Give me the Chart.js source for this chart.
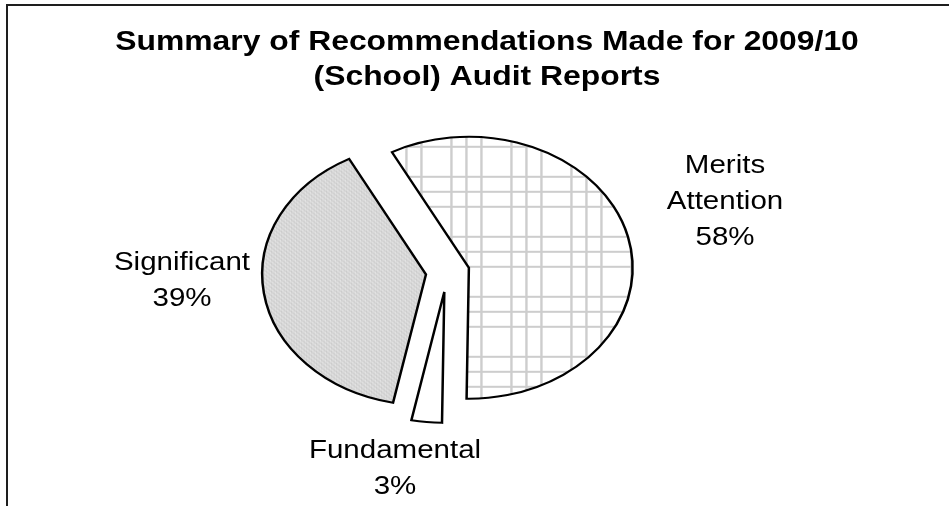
<!DOCTYPE html>
<html>
<head>
  <meta charset="UTF-8">
  <title>Summary of Recommendations Made for 2009/10</title>
  <script src="https://cdn.jsdelivr.net/npm/chart.js@4.4.1/dist/chart.umd.min.js"></script>
  <style>
    body {
      margin: 0;
      background: #fff;
    }
    #wrap {
      width: 949px;
      height: 506px;
    }
  </style>
</head>
<body>
  <div id="wrap"><canvas id="pie"></canvas></div>

  <script>
    const categories = ['Merits Attention', 'Fundamental', 'Significant'];
    const percents = [58, 3, 39];
    const titleLines = ['Summary of Recommendations Made for 2009/10', '(School) Audit Reports'];

    // the whole chart is drawn a bit wider than tall
    const PIE_STRETCH = 1.25;
    const TEXT_STRETCH = 1.18;
    const EXPLODE = [18, 20, 17];
    // first-line baseline of each slice label
    const labelSpots = [{x: 725, y: 173}, {x: 395, y: 458}, {x: 182, y: 270}];
    const LABEL_LINE = 36;

    function gridPattern() {
      const c = document.createElement('canvas');
      c.width = 48;
      c.height = 60;
      const g = c.getContext('2d');
      g.fillStyle = '#ffffff';
      g.fillRect(0, 0, 48, 60);
      g.fillStyle = '#cdcdcd';
      [0, 12, 24].forEach(x => g.fillRect(x, 0, 2, 60));
      [0, 15, 30].forEach(y => g.fillRect(0, y, 48, 2));
      return g.createPattern(c, 'repeat');
    }

    // small speckled weave for the Significant slice
    function weavePattern() {
      const c = document.createElement('canvas');
      c.width = 4;
      c.height = 4;
      const g = c.getContext('2d');
      g.fillStyle = '#d7d7d7';
      g.fillRect(0, 0, 4, 4);
      g.fillStyle = '#f0f0f0';
      g.fillRect(0, 0, 1, 1);
      g.fillRect(2, 2, 1, 1);
      g.fillStyle = '#c2c2c2';
      g.fillRect(1, 3, 1, 1);
      g.fillRect(3, 1, 1, 1);
      return g.createPattern(c, 'repeat');
    }

    function stretchedText(ctx, text, cx, baseline) {
      ctx.save();
      ctx.translate(cx, baseline);
      ctx.scale(TEXT_STRETCH, 1);
      ctx.fillText(text, 0, 0);
      ctx.restore();
    }

    const frameAndText = {
      id: 'frameAndText',
      beforeDraw(chart) {
        const ctx = chart.ctx;
        ctx.save();
        ctx.fillStyle = '#fff';
        ctx.fillRect(0, 0, chart.width, chart.height);
        ctx.strokeStyle = '#1e1e1e';
        ctx.lineWidth = 2;
        ctx.strokeRect(7, 5, chart.width + 20, chart.height + 20);
        ctx.restore();
      },
      // exploded slices, squeezed into an oval
      beforeDatasetDraw(chart, args) {
        const ctx = chart.ctx;
        args.meta.data.forEach((arc, i) => {
          const p = arc.getProps(['x', 'y', 'startAngle', 'endAngle']);
          const mid = (p.startAngle + p.endAngle) / 2;
          ctx.save();
          ctx.translate(p.x, p.y);
          ctx.scale(PIE_STRETCH, 1);
          ctx.translate(Math.cos(mid) * EXPLODE[i] - p.x, Math.sin(mid) * EXPLODE[i] - p.y);
          arc.draw(ctx);
          ctx.restore();
        });
        return false;
      },
      afterDraw(chart) {
        const ctx = chart.ctx;
        ctx.save();
        ctx.fillStyle = '#000';
        ctx.textAlign = 'center';
        ctx.textBaseline = 'alphabetic';

        ctx.font = 'bold 27px "Liberation Sans", Arial, sans-serif';
        stretchedText(ctx, titleLines[0], 487, 50);
        stretchedText(ctx, titleLines[1], 487, 85);

        ctx.font = '25px "Liberation Sans", Arial, sans-serif';
        categories.forEach((name, i) => {
          const lines = name.split(' ').concat(percents[i] + '%');
          lines.forEach((t, k) => {
            stretchedText(ctx, t, labelSpots[i].x, labelSpots[i].y + k * LABEL_LINE);
          });
        });
        ctx.restore();
      }
    };

    new Chart(document.getElementById('pie'), {
      type: 'pie',
      data: {
        labels: categories,
        datasets: [{
          data: percents,
          backgroundColor: [gridPattern(), '#ffffff', weavePattern()],
          borderColor: '#000',
          borderWidth: 2,
          borderJoinStyle: 'miter'
        }]
      },
      options: {
        responsive: true,
        maintainAspectRatio: false,
        animation: false,
        rotation: -28,
        radius: 131,
        layout: {
          padding: {left: 0, right: 55, top: 38, bottom: 0}
        },
        plugins: {
          legend: {display: false},
          tooltip: {enabled: false}
        }
      },
      plugins: [frameAndText]
    });
  </script>
</body>
</html>
